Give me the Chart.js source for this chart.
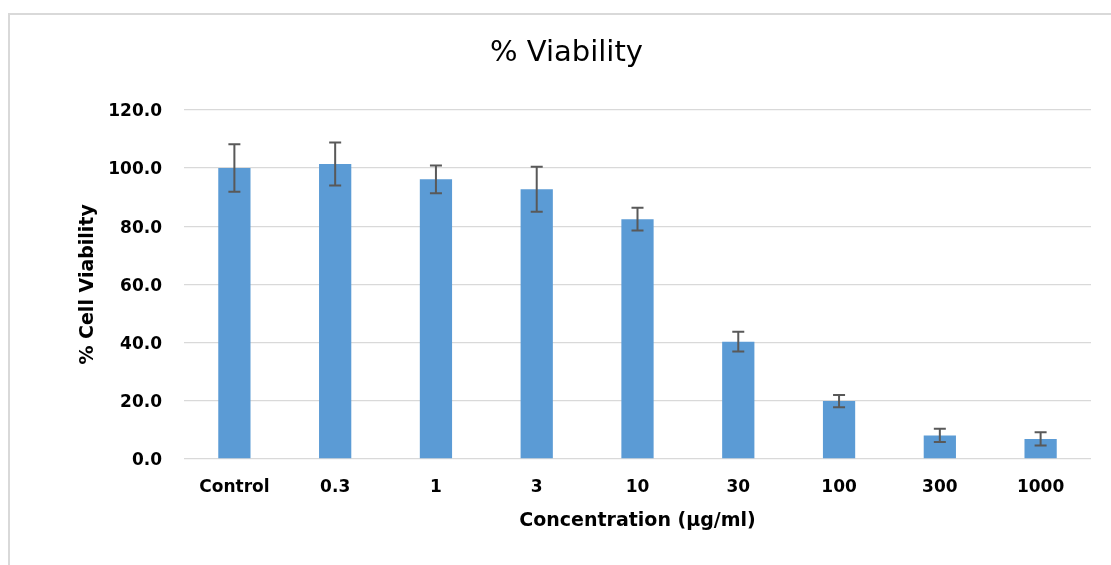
<!DOCTYPE html>
<html>
<head>
<meta charset="utf-8">
<script src="https://cdn.jsdelivr.net/npm/chart.js@4"></script>
<style>
  html, body { margin: 0; padding: 0; background: #fff; overflow: hidden; }
  #frame { position: absolute; left: 8px; top: 13px; width: 1300px; height: 800px; border: 2px solid #d9d9d9; box-sizing: border-box; }
  #wrap { position: absolute; left: 0; top: 0; width: 1111px; height: 565px; }
</style>
</head>
<body>
<div id="frame"></div>
<div id="wrap"><canvas id="c" width="1111" height="565"></canvas></div>
<script>
const categories = ["Control", "0.3", "1", "3", "10", "30", "100", "300", "1000"];
const viability = [100.0, 101.4, 96.1, 92.7, 82.4, 40.3, 19.9, 8.1, 6.9];
const errors = [8.2, 7.4, 4.8, 7.7, 3.9, 3.4, 2.1, 2.3, 2.3];
const yTicks = [0, 20, 40, 60, 80, 100, 120];

Chart.defaults.font.family = "'DejaVu Sans', sans-serif";
Chart.defaults.color = '#000';

const errorBarPlugin = {
  id: 'errorBars',
  afterDatasetsDraw(chart) {
    const ctx = chart.ctx;
    const meta = chart.getDatasetMeta(0);
    const y = chart.scales.y;
    ctx.save();
    ctx.strokeStyle = '#595959';
    ctx.lineWidth = 2;
    meta.data.forEach((bar, i) => {
      const v = viability[i], e = errors[i];
      const top = y.getPixelForValue(v + e);
      const bot = y.getPixelForValue(v - e);
      const x = bar.x;
      ctx.beginPath();
      ctx.moveTo(x, top); ctx.lineTo(x, bot);
      ctx.moveTo(x - 6, top); ctx.lineTo(x + 6, top);
      ctx.moveTo(x - 6, bot); ctx.lineTo(x + 6, bot);
      ctx.stroke();
    });
    ctx.restore();
  }
};

new Chart(document.getElementById('c'), {
  type: 'bar',
  data: {
    labels: categories,
    datasets: [{
      data: viability,
      backgroundColor: '#5B9BD5',
      borderWidth: 0,
      barPercentage: 0.4,
      categoryPercentage: 0.8
    }]
  },
  options: {
    responsive: false,
    animation: false,
    devicePixelRatio: 1,
    layout: { padding: { left: 42, right: 20, top: 0, bottom: 0 } },
    plugins: {
      legend: { display: false },
      tooltip: { enabled: false },
      title: {
        display: true,
        text: '% Viability',
        color: '#000',
        font: { size: 29, weight: 'normal' },
        padding: { top: 36, bottom: 39 }
      }
    },
    scales: {
      x: {
        grid: { display: false },
        border: { display: false },
        ticks: { font: { size: 17, weight: 'bold' }, padding: 10, color: '#000' },
        title: {
          display: true,
          text: 'Concentration (µg/ml)',
          color: '#000',
          font: { size: 19, weight: 'bold' },
          padding: { top: 4, bottom: 33 }
        },
        afterFit(scale) { scale.height = 106; }
      },
      y: {
        min: 0,
        max: 120,
        afterBuildTicks(scale) { scale.ticks = yTicks.map(v => ({ value: v })); },
        grid: { color: '#d9d9d9', lineWidth: 1.3, drawTicks: false },
        border: { display: false },
        ticks: {
          font: { size: 17, weight: 'bold' },
          padding: 22,
          labelOffset: 2,
          color: '#000',
          callback: v => Number(v).toFixed(1)
        },
        title: {
          display: true,
          text: '% Cell Viability',
          color: '#000',
          font: { size: 19, weight: 'bold' },
          padding: { top: 35, bottom: 4 }
        },
        afterFit(scale) { scale.width = 142; }
      }
    }
  },
  plugins: [errorBarPlugin]
});
</script>
</body>
</html>
